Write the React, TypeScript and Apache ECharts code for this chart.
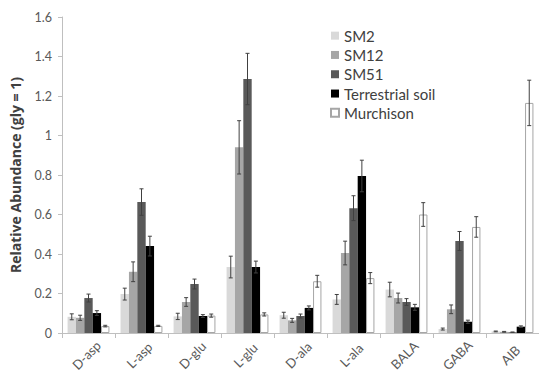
import React, { useEffect, useRef } from "react";
import * as echarts from "echarts";

const categories = ["D-asp", "L-asp", "D-glu", "L-glu", "D-ala", "L-ala", "BALA", "GABA", "AIB"];
const seriesNames = ["SM2", "SM12", "SM51", "Terrestrial soil", "Murchison"];

const sm2 = [0.082, 0.197, 0.084, 0.334, 0.09, 0.17, 0.22, 0.02, 0.008];
const sm2Err = [0.015, 0.03, 0.016, 0.055, 0.015, 0.025, 0.037, 0.005, 0.002];
const sm12 = [0.077, 0.31, 0.157, 0.94, 0.064, 0.405, 0.177, 0.12, 0.006];
const sm12Err = [0.013, 0.05, 0.022, 0.135, 0.01, 0.06, 0.025, 0.022, 0.002];
const sm51 = [0.177, 0.663, 0.248, 1.286, 0.086, 0.632, 0.157, 0.466, 0.004];
const sm51Err = [0.02, 0.067, 0.025, 0.13, 0.01, 0.063, 0.017, 0.048, 0.001];
const terr = [0.101, 0.44, 0.086, 0.334, 0.127, 0.795, 0.13, 0.057, 0.032];
const terrErr = [0.012, 0.05, 0.007, 0.03, 0.01, 0.08, 0.015, 0.008, 0.004];
const murch = [0.035, 0.036, 0.088, 0.094, 0.262, 0.278, 0.6, 0.537, 1.165];
const murchErr = [0.004, 0.003, 0.008, 0.008, 0.03, 0.028, 0.06, 0.052, 0.115];

const values = [sm2, sm12, sm51, terr, murch];
const errors = [sm2Err, sm12Err, sm51Err, terrErr, murchErr];
const fills = ["#d9d9d9", "#a6a6a6", "#595959", "#000000", "#ffffff"];

const FONT = "Lato, 'Open Sans', sans-serif";
const CAT_GAP = 0.21;

export default function App() {
  const ref = useRef<HTMLDivElement>(null);
  useEffect(() => {
    if (!ref.current) return;
    const chart = echarts.init(ref.current, null, { renderer: "svg" });
    const barSeries = seriesNames.map((name, i) => ({
      type: "bar",
      name,
      data: values[i],
      barGap: "0%",
      barCategoryGap: CAT_GAP * 100 + "%",
      itemStyle:
        i === 4
          ? { color: "#ffffff", borderColor: "#a6a6a6", borderWidth: 1 }
          : { color: fills[i] },
      z: 2,
    }));
    const errSeries = seriesNames.map((name, i) => ({
      type: "custom",
      name: name + " error",
      silent: true,
      z: 5,
      encode: { x: 0, y: [1, 2] },
      data: values[i].map((v, k) => [k, v - errors[i][k], v + errors[i][k]]),
      renderItem: (params: any, api: any) => {
        const cat = api.value(0);
        const lo = api.coord([cat, api.value(1)]);
        const hi = api.coord([cat, api.value(2)]);
        const catW = api.size([1, 0])[0];
        const bw = (catW * (1 - CAT_GAP)) / 5;
        const x = lo[0] + (i - 2) * bw;
        const cap = 2;
        const style = { stroke: "#404040", lineWidth: 1 };
        return {
          type: "group",
          children: [
            { type: "line", shape: { x1: x, y1: lo[1], x2: x, y2: hi[1] }, style },
            { type: "line", shape: { x1: x - cap, y1: lo[1], x2: x + cap, y2: lo[1] }, style },
            { type: "line", shape: { x1: x - cap, y1: hi[1], x2: x + cap, y2: hi[1] }, style },
          ],
        };
      },
    }));
    chart.setOption({
      animation: false,
      textStyle: { fontFamily: FONT },
      grid: { left: 62, top: 17, width: 479.25, height: 316, containLabel: false },
      legend: {
        data: seriesNames,
        orient: "vertical",
        left: 325,
        top: 21,
        itemWidth: 8,
        itemHeight: 8,
        itemGap: 0,
        icon: "rect",
        textStyle: { fontSize: 15, color: "#404040", fontFamily: FONT, lineHeight: 19.3 },
      },
      xAxis: {
        type: "category",
        data: categories,
        axisLine: { lineStyle: { color: "#bfbfbf" } },
        axisTick: { show: true, length: 5, lineStyle: { color: "#bfbfbf" } },
        axisLabel: {
          rotate: 45,
          fontSize: 13,
          color: "#595959",
          margin: 20,
          interval: 0,
          align: "center",
          verticalAlign: "middle",
          padding: [0, 6, 0, 0],
        },
      },
      yAxis: {
        type: "value",
        min: 0,
        max: 1.6,
        interval: 0.2,
        name: "Relative Abundance (gly = 1)",
        nameLocation: "middle",
        nameGap: 40,
        nameTextStyle: {
          fontSize: 14,
          fontWeight: "bold",
          color: "#404040",
          fontFamily: "'Open Sans', sans-serif",
        },
        axisLine: { show: true, lineStyle: { color: "#bfbfbf" } },
        axisTick: { show: true, length: 4, lineStyle: { color: "#bfbfbf" } },
        splitLine: { show: false },
        axisLabel: { fontSize: 12.5, color: "#595959", margin: 10 },
      },
      series: [...barSeries, ...errSeries],
    });
    return () => chart.dispose();
  }, []);
  return (
    <div
      ref={ref}
      style={{ position: "fixed", left: 0, top: 0, width: 539, height: 377, background: "#fff" }}
    />
  );
}
